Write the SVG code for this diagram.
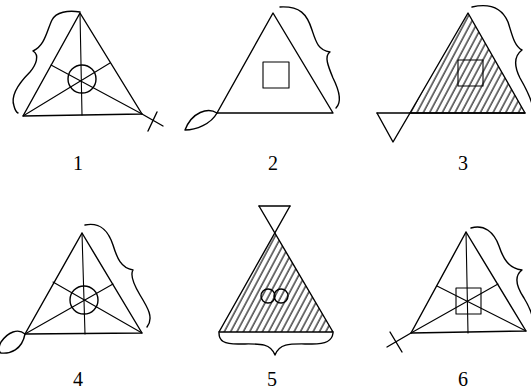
<svg xmlns="http://www.w3.org/2000/svg" width="531" height="389" viewBox="0 0 531 389">
<style>
.s{fill:none;stroke:#000;stroke-width:1.4;stroke-linejoin:round;stroke-linecap:round}
.t{stroke-width:1.1}
.lbl{font-family:"Liberation Serif","Times New Roman",serif;font-size:20px;fill:#000;text-anchor:middle}
</style>
<defs>
<pattern id="hatch" patternUnits="userSpaceOnUse" width="5.6" height="10" patternTransform="rotate(28)">
<line x1="1" y1="0" x2="1" y2="10" stroke="#000" stroke-width="1.1"/>
</pattern>
<clipPath id="c3"><polygon points="468,13 410,113 525,113"/></clipPath>
<clipPath id="c5"><polygon points="275,233 219,332 333,332"/></clipPath>
</defs>
<rect width="531" height="389" fill="#fff"/>

<g id="fig1">
<polygon class="s" points="80,13 23,116 142,114"/>
<line class="s t" x1="80" y1="13" x2="82" y2="115"/>
<line class="s t" x1="23" y1="116" x2="110" y2="63"/>
<line class="s t" x1="142" y1="114" x2="51" y2="65"/>
<circle class="s" cx="82" cy="79" r="14"/>
<line class="s" x1="142" y1="114" x2="163" y2="126"/>
<line class="s" x1="148" y1="131" x2="157" y2="112"/>
<path class="s" d="M80,12 C68,10 56,12 52,20 C47,30 45,46 33,51 C40,55 36,65 30,72 C20,82 10,95 14,106 C15,110 16,112 18,113"/>
<text class="lbl" x="78" y="170">1</text>
</g>

<g id="fig2">
<polygon class="s" points="273,13 217,113 333,113"/>
<rect class="s t" x="263" y="62" width="26" height="26"/>
<path class="s" d="M217,113 C208,107 192,112 185,130 C196,130 211,124 217,113"/>
<path class="s" d="M280,7 C300,6 307,14 312,30 C316,42 318,50 330,52 C324,56 328,66 333,78 C340,92 342,102 336,108"/>
<text class="lbl" x="273" y="170">2</text>
</g>

<g id="fig3">
<rect x="405" y="10" width="125" height="105" fill="url(#hatch)" clip-path="url(#c3)"/>
<polygon class="s" points="468,13 410,113 525,113"/>
<line class="s" x1="377" y1="113" x2="525" y2="113"/>
<polyline class="s" points="377,113 393,142 410,113"/>
<rect class="s t" x="458" y="60" width="25" height="26"/>
<path class="s" d="M472,7 C490,3 502,8 508,22 C512,34 514,46 522,50 C514,56 514,66 520,78 C528,92 534,104 533,112"/>
<text class="lbl" x="463" y="170">3</text>
</g>

<g id="fig4">
<polygon class="s" points="82,233 25,334 142,333"/>
<line class="s t" x1="82" y1="233" x2="85" y2="334"/>
<line class="s t" x1="25" y1="334" x2="113" y2="284"/>
<line class="s t" x1="142" y1="333" x2="53" y2="282"/>
<circle class="s" cx="84" cy="300" r="14"/>
<path class="s" d="M25,334 C18,328 8,332 1,342 C-2,348 -1,352 1,353 C10,354 22,350 25,334"/>
<path class="s" d="M85,225 C100,222 108,230 113,245 C117,258 121,268 133,270 C130,275 134,285 140,295 C148,308 154,318 147,327"/>
<text class="lbl" x="78" y="386">4</text>
</g>

<g id="fig5">
<rect x="215" y="230" width="122" height="105" fill="url(#hatch)" clip-path="url(#c5)"/>
<line class="s" x1="259" y1="206" x2="333" y2="332"/>
<line class="s" x1="290" y1="206" x2="219" y2="332"/>
<line class="s" x1="259" y1="206" x2="290" y2="206"/>
<line class="s" x1="219" y1="332" x2="333" y2="332"/>
<circle class="s" cx="268" cy="296" r="7" stroke-width="2"/>
<circle class="s" cx="281" cy="296" r="7" stroke-width="2"/>
<path class="s" d="M219,333 C219,341 224,344 238,344 C258,344 270,342 275,355 C280,342 292,344 312,344 C326,344 332,341 333,333"/>
<text class="lbl" x="272" y="386">5</text>
</g>

<g id="fig6">
<polygon class="s" points="466,232 411,333 526,331"/>
<line class="s t" x1="466" y1="232" x2="468" y2="333"/>
<line class="s t" x1="411" y1="333" x2="498" y2="284"/>
<line class="s t" x1="526" y1="331" x2="437" y2="286"/>
<rect class="s t" x="456" y="288" width="25" height="26"/>
<line class="s" x1="411" y1="333" x2="387" y2="347"/>
<line class="s" x1="390" y1="332" x2="402" y2="352"/>
<path class="s" d="M471,228 C484,224 494,232 499,246 C503,258 508,268 522,270 C514,276 516,286 524,298 C530,308 534,318 533,326"/>
<text class="lbl" x="463" y="386">6</text>
</g>
</svg>
